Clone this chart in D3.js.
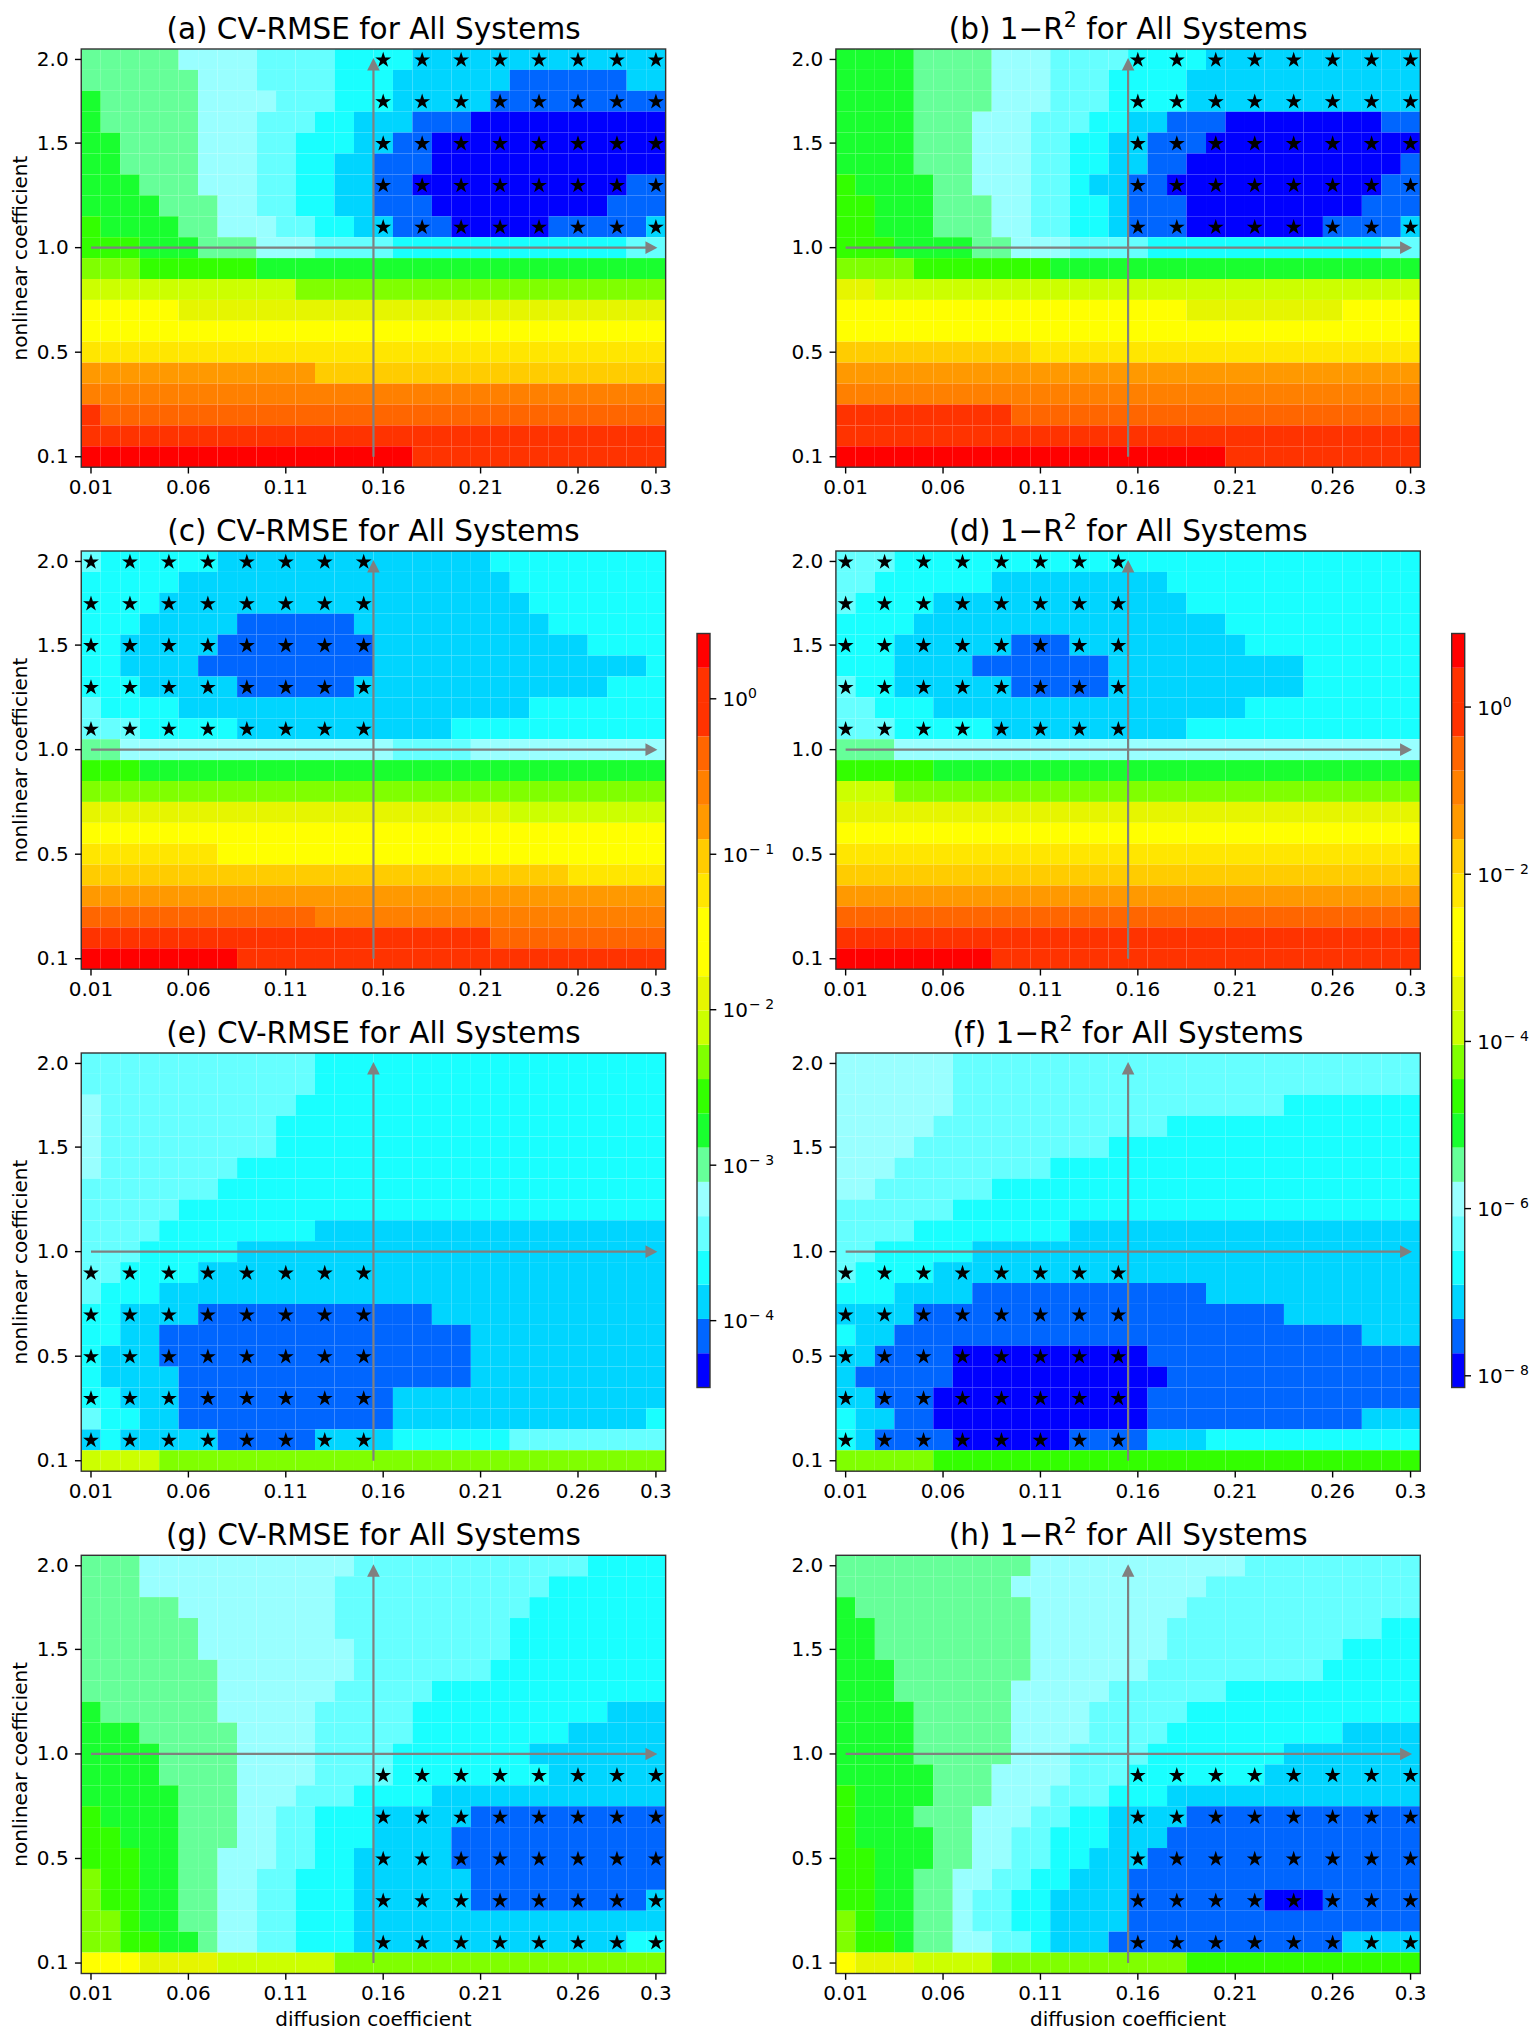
<!DOCTYPE html>
<html><head><meta charset="utf-8">
<script src="https://cdn.jsdelivr.net/npm/d3@7"></script>
<style>html,body{margin:0;padding:0;background:#fff}svg{display:block}text{font-family:"DejaVu Sans",sans-serif;fill:#000}</style>
</head><body><div id="c"></div>
<script>
// Bin codes a..v, bottom to top of the colour bar
const binCodes = "abcdefghijklmnopqrstuv".split("");
const binColors = ["#0000ff","#0066ff","#00d5ff","#19ffff","#66ffff","#99ffff","#66ff99","#19ff2f","#33ff00","#80ff00","#ccff00","#e6f500","#ffff00","#ffff00","#ffe600","#ffcc00","#ff9900","#ff8000","#ff6600","#ff3300","#ff3300","#ff0000"];
// Each row runs top to bottom; "g5" = bin g up to column 5 (exclusive)
const panelA = ["g5 f9 e13 d17 c30","g6 f9 e13 d16 c22 b28 c30","h1 g6 f10 e13 d16 c21 b30","h1 g6 f9 e12 d14 c17 b20 a30","h2 g6 f9 e11 d14 c16 b18 a30","h2 g6 f9 e11 d13 c15 b18 a30","h3 g6 f9 e11 d13 c15 b17 a28 b30","h4 g7 f9 e11 d13 c15 b18 a27 b30","i1 h5 g7 f10 e12 d14 c16 b19 a24 b29 c30","i3 h6 g9 f12 e16 d28 e30","j3 i9 h30","k11 j30","m5 l30","m30","o30","q12 p30","r30","t1 s30","t30","v17 t30"];
const panelB = ["h4 g8 f11 e15 d19 c30","h4 g8 f11 e14 d18 c30","h4 g8 f11 e14 d18 c30","h4 g7 f10 e13 d15 c17 b20 a28 b30","h4 g7 f10 e12 d14 c16 b19 a30","h4 g7 f10 e12 d14 c16 b18 a29 b30","i1 h5 g7 f10 e12 d13 c15 b17 a28 b30","i2 h5 g8 f10 e12 d14 c15 b18 a27 b30","i2 h5 g8 f10 e12 d14 c15 b18 a25 b29 c30","i3 h7 g9 f12 e16 d28 e30","j4 i11 h30","l2 k30","m18 l26 m30","m30","p10 o30","q30","r30","t9 s30","t30","v20 t30"];
const panelC = ["e1 d7 c21 d30","d5 c22 d30","d4 c23 d30","d3 c8 b14 c24 d30","d2 c7 b15 c26 d30","d2 c6 b15 c29 d30","d3 c8 b14 c27 d30","e1 d5 c23 d30","e3 d8 c19 d30","g2 f16 e20 f30","i3 h30","j30","l22 k30","m30","o7 m30","p25 o30","q30","s12 r30","t21 s30","v8 t30"];
const panelD = ["e3 d30","e2 d8 c17 d30","e1 d5 c18 d30","d4 c20 d30","d3 c9 b12 c21 d30","d3 c7 b14 c24 d30","e1 d3 c9 b14 c24 d30","e2 d5 c21 d30","e3 d8 c18 d30","g3 f30","i5 h30","k3 j30","l30","m30","o30","p30","q30","s30","t30","v8 t30"];
const panelE = ["e12 d30","e12 d30","f1 e11 d30","f1 e10 d30","f1 e10 d30","f1 e8 d30","e7 d30","e5 d30","e4 d12 c30","e3 d8 c30","e2 d6 c30","e1 d4 c30","d2 c6 b18 c30","d2 c4 b20 c30","d1 c4 b20 c30","d1 c5 b20 c30","d2 c5 b16 c30","e1 d3 c5 b16 c29 d30","c1 d2 c7 b12 c16 d22 e30","k4 j30"];
const panelF = ["f6 e30","f6 e30","f6 e23 d30","f5 e17 d30","f4 e14 d30","f3 e11 d30","f2 e8 d30","e6 d30","e4 d12 c30","e2 d7 c30","e1 d5 c30","d3 c7 b19 c30","c4 b23 c30","d1 c3 b27 c30","c2 b6 a16 b30","c1 b6 a17 b30","c2 b5 a16 b30","d1 c3 b5 a16 b27 c30","d1 c2 b6 a12 b16 c19 d30","j5 i30"];
const panelG = ["g3 f14 e26 d30","g3 f13 e24 d30","g5 f13 e23 d30","g6 f13 e22 d30","g6 f14 e22 d30","g7 f14 e21 d30","g7 f13 e18 d30","h1 g7 f12 e17 d27 c30","h3 g8 f12 e17 d25 c30","h4 g8 f12 e16 d23 c30","h4 g8 f12 e16 d24 c30","h5 g8 f11 e14 d18 c30","i1 h5 g8 f10 e12 d15 c20 b30","i2 h5 g8 f10 e12 d15 c19 b30","i3 h5 g7 f10 e12 d14 c19 b30","j1 i3 h5 g7 f9 e11 d14 c20 b30","j1 i3 h5 g7 f9 e11 d14 c20 b29 c30","j2 i3 h5 g7 f9 e11 d14 c30","j2 i4 h6 g7 f9 e11 d14 c28 d30","m3 l7 k13 j30"];
const panelH = ["g10 f21 e30","g9 f19 e30","h1 g10 f18 e30","h2 g10 f17 e28 d30","h2 g10 f17 e26 d30","h3 g10 f16 e25 d30","h3 g9 f14 e20 d30","h4 g9 f13 e18 d30","h4 g9 f13 e17 d26 c30","h4 g9 f12 e16 d23 c30","h5 g8 f12 e15 d22 c30","i1 h5 g8 f11 e14 d17 c30","i1 h4 g7 f10 e12 d14 c18 b30","i1 h5 g7 f9 e11 d14 c17 b30","i2 h5 g7 f9 e11 d13 c16 b30","i2 h4 g6 f8 e10 d12 c15 b30","i2 h4 g6 f7 e9 d11 c15 b22 a25 b30","j1 i2 h4 g6 f7 e9 d11 c15 b30","j1 i3 h4 g6 f8 e10 d11 c14 b26 c30","m1 l4 k8 j18 i30"];

const panelTitles = ["(a) CV-RMSE for All Systems","(b) 1−R|2| for All Systems","(c) CV-RMSE for All Systems","(d) 1−R|2| for All Systems","(e) CV-RMSE for All Systems","(f) 1−R|2| for All Systems","(g) CV-RMSE for All Systems","(h) 1−R|2| for All Systems"];
const panelGrids = [panelA,panelB,panelC,panelD,panelE,panelF,panelG,panelH];
const colIndex = d3.range(30), rowIndex = d3.range(20);
const xTickCols = [0,5,10,15,20,25,29];
const xTickLabels = ["0.01","0.06","0.11","0.16","0.21","0.26","0.3"];
const yTickRows = [0,4,9,14,19];
const yTickLabels = ["2.0","1.5","1.0","0.5","0.1"];
const oddCols = [15,17,19,21,23,25,27,29], evenCols = [0,2,4,6,8,10,12,14];
const upperRows = [0,2,4,6,8], lowerRows = [10,12,14,16,18];
const starCols = [oddCols,oddCols,evenCols,evenCols,evenCols,evenCols,oddCols,oddCols];
const starRows = [upperRows,upperRows,upperRows,upperRows,lowerRows,lowerRows,lowerRows,lowerRows];
const barTicks1 = [0,-1,-2,-3,-4], barRange1 = [-4.43,0.42];
const barTicks2 = [0,-2,-4,-6,-8], barRange2 = [-8.14,0.88];

const W=1540,H=2039, lefts=[81.25,835.9], tops=[49,551,1053,1555.3], PW=584.4, PH=418.2;
const svg=d3.select("#c").append("svg").attr("width",W).attr("height",H).attr("viewBox",`0 0 ${W} ${H}`);
const color=d3.scaleOrdinal(binCodes,binColors);
const TICK=6.3,PAD=6.3,FS=20;

function expand(run){const out=[];let s=0;run.split(" ").forEach(t=>{const e=+t.slice(1);for(let c=s;c<e;c++)out.push(t[0]);s=e;});return out;}

panelGrids.forEach((grid,i)=>{
  const L=lefts[i%2],T=tops[Math.floor(i/2)];
  const x=d3.scaleBand(colIndex,[L,L+PW]), y=d3.scaleBand(rowIndex,[T,T+PH]);
  const g=svg.append("g");
  const cells=grid.flatMap((run,r)=>expand(run).map((code,c)=>({r,c,code})));
  g.selectAll("rect.cell").data(cells).join("rect").attr("class","cell")
    .attr("x",d=>x(d.c)).attr("y",d=>y(d.r)).attr("width",x.bandwidth()).attr("height",y.bandwidth())
    .attr("fill",d=>color(d.code));
  const stars=starRows[i].flatMap(r=>starCols[i].map(c=>({r,c})));
  g.selectAll("path.star").data(stars).join("path").attr("class","star")
    .attr("d",d3.symbol(d3.symbolStar,78)())
    .attr("transform",d=>`translate(${x(d.c)+x.bandwidth()/2},${y(d.r)+y.bandwidth()/2+0.6})`).attr("fill","#000");
  // arrows
  const cx=c=>x(c)+x.bandwidth()/2, cy=r=>y(r)+y.bandwidth()/2;
  const gray="#808080";
  const hx0=cx(0),hx1=cx(29)+1.5,hy=cy(9);
  g.append("line").attr("x1",hx0).attr("x2",hx1-8).attr("y1",hy).attr("y2",hy).attr("stroke",gray).attr("stroke-width",2.2);
  g.append("path").attr("d",`M${hx1},${hy}L${hx1-12},${hy-6.3}L${hx1-12},${hy+6.3}Z`).attr("fill",gray);
  const vx=x(15),vy0=cy(19),vy1=cy(0)-1.5;
  g.append("line").attr("x1",vx).attr("x2",vx).attr("y1",vy0).attr("y2",vy1+8).attr("stroke",gray).attr("stroke-width",2.2);
  g.append("path").attr("d",`M${vx},${vy1}L${vx-6.3},${vy1+12.5}L${vx+6.3},${vy1+12.5}Z`).attr("fill",gray);
  // frame and axes
  g.append("rect").attr("x",L).attr("y",T).attr("width",PW).attr("height",PH).attr("fill","none").attr("stroke","#333").attr("stroke-width",1.4);
  const ax=g.append("g").attr("transform",`translate(0,${T+PH})`).call(d3.axisBottom(x).tickValues(xTickCols).tickFormat(c=>xTickLabels[xTickCols.indexOf(c)]).tickSize(TICK).tickPadding(PAD));
  const ay=g.append("g").attr("transform",`translate(${L},0)`).call(d3.axisLeft(y).tickValues(yTickRows).tickFormat(r=>yTickLabels[yTickRows.indexOf(r)]).tickSize(TICK).tickPadding(PAD));
  [ax,ay].forEach(a=>{a.select(".domain").remove();a.selectAll("line").attr("stroke","#000").attr("stroke-width",1.4);a.selectAll("text").attr("font-size",FS).attr("font-family","DejaVu Sans").attr("fill","#000");});
  // title
  const parts=panelTitles[i].split("|");
  const t=g.append("text").attr("x",L+PW/2).attr("y",T-10.5).attr("text-anchor","middle").attr("font-size",29.5);
  t.append("tspan").text(parts[0]);
  if(parts.length>1){t.append("tspan").attr("dy",-12).attr("font-size",20.6).text(parts[1]);t.append("tspan").attr("dy",12).text(parts[2]);}
  if(i%2===0) g.append("text").attr("transform",`translate(${L-54},${T+PH/2}) rotate(-90)`).attr("text-anchor","middle").attr("font-size",FS).text("nonlinear coefficient");
  if(i>=6) g.append("text").attr("x",L+PW/2).attr("y",T+PH+52.5).attr("text-anchor","middle").attr("font-size",FS).text("diffusion coefficient");
});

function colorbar(bx,range,ticks){
  const BT=633.5,BB=1387.5,BW=13;
  const s=d3.scaleLog([Math.pow(10,range[0]),Math.pow(10,range[1])],[BB,BT]);
  const step=(range[1]-range[0])/binCodes.length;
  const g=svg.append("g");
  g.selectAll("rect").data(binCodes).join("rect")
    .attr("x",bx).attr("width",BW)
    .attr("y",(d,k)=>s(Math.pow(10,range[0]+(k+1)*step)))
    .attr("height",(d,k)=>s(Math.pow(10,range[0]+k*step))-s(Math.pow(10,range[0]+(k+1)*step)))
    .attr("fill",d=>color(d));
  g.append("rect").attr("x",bx).attr("y",BT).attr("width",BW).attr("height",BB-BT).attr("fill","none").attr("stroke","#333").attr("stroke-width",1.4);
  ticks.forEach(p=>{
    const yy=s(Math.pow(10,p));
    g.append("line").attr("x1",bx+BW).attr("x2",bx+BW+TICK).attr("y1",yy).attr("y2",yy).attr("stroke","#000").attr("stroke-width",1.4);
    const t=g.append("text").attr("x",bx+BW+TICK+PAD).attr("y",yy+7.5).attr("font-size",FS);
    t.append("tspan").text("10");
    t.append("tspan").attr("dy",-8).attr("dx",p<0?1:0).attr("font-size",14).text(p<0?`− ${-p}`:"0");
  });
}
colorbar(697,barRange1,barTicks1);
colorbar(1451.7,barRange2,barTicks2);
</script></body></html>
